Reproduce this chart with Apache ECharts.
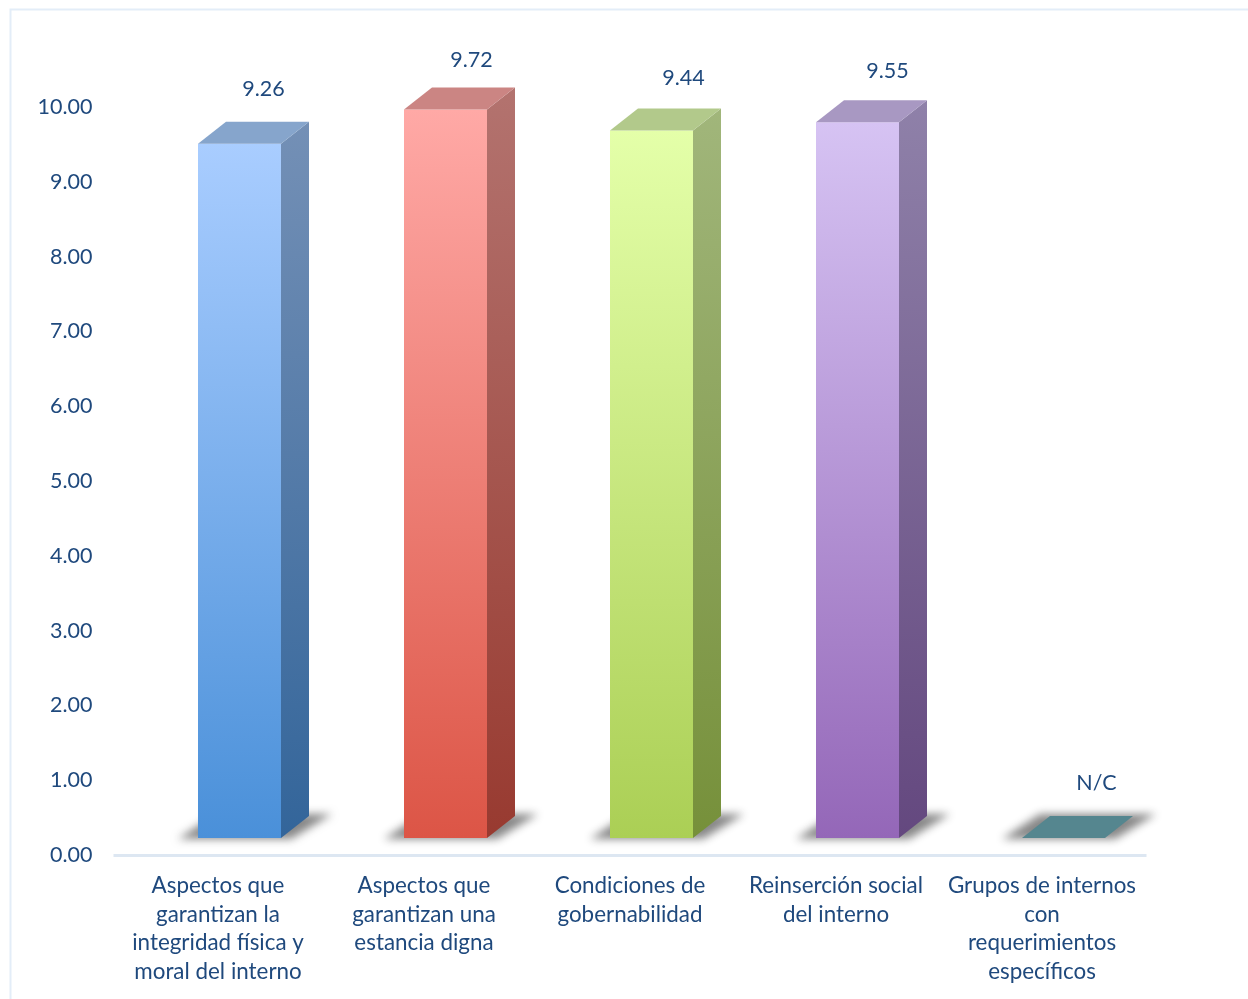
<!DOCTYPE html>
<html>
<head>
<meta charset="utf-8">
<style>html,body{margin:0;padding:0;background:#fff;overflow:hidden}#c{width:1248px;height:999px}</style>
<script src="https://cdn.jsdelivr.net/npm/echarts@6/dist/echarts.min.js"></script>
</head>
<body>
<div id="c"></div>
<script>
const categories = [
  "Aspectos que\ngarantizan la\nintegridad física y\nmoral del interno",
  "Aspectos que\ngarantizan una\nestancia digna",
  "Condiciones de\ngobernabilidad",
  "Reinserción social\ndel interno",
  "Grupos de internos\ncon\nrequerimientos\nespecíficos"
];
const values = [9.26, 9.72, 9.44, 9.55, 0];
const valueLabels = ["9.26", "9.72", "9.44", "9.55", "N/C"];
const yTicks = {min: 0, max: 10, interval: 1};

const faces = [
  {front:["#a9cdff","#4a90d9"], side:["#7490b6","#33659a"], top:"#86a5cc"},
  {front:["#ffa9a6","#dc5546"], side:["#b3736f","#983a30"], top:"#cb8583"},
  {front:["#e4ffa9","#abcf55"], side:["#a1b67b","#76903a"], top:"#b2c98b"},
  {front:["#d6c3f3","#9467b8"], side:["#8f81a9","#64487f"], top:"#a898c2"},
  {front:["#55868f","#55868f"], side:["#55868f","#55868f"], top:"#55868f"}
];
const labelDx = [24, 26, 32, 30, 33];
const labelDy = [33, 28, 31, 30, 33];
const TXT = "#1f497d", FONT = "Lato";
const grad = c => ({type:"linear",x:0,y:0,x2:0,y2:1,colorStops:[{offset:0,color:c[0]},{offset:1,color:c[1]}]});

function renderItem(params, api) {
  const i = api.value(0), v = api.value(1);
  const base = api.coord([i, 0]), tip = api.coord([i, v]);
  const w = 83, dx = 28, dy = 22, far = 3000;
  const x0 = base[0] - 20, x1 = x0 + w;
  const yb = base[1] - 17;
  const yt = v > 0 ? tip[1] - 18.5 : yb;
  const f = faces[i];
  const poly = (points, fill, extra) => ({type:"polygon", shape:{points}, style:Object.assign({fill}, extra || {})});
  // soft floor shadow: the shape sits off-canvas so that only its blurred shadow shows
  const kids = [
    poly([[x0-20-far,yb+1],[x0+18-far,yb-24],[x1+dx+23-far,yb-24],[x1+10-far,yb+1]], "#000",
      {shadowBlur:8, shadowOffsetX:far, shadowColor:"rgba(125,125,125,0.92)"})
  ];
  if (v > 0) {
    kids.push(poly([[x1,yb],[x1+dx,yb-dy],[x1+dx,yt-dy],[x1,yt]], grad(f.side)));
    kids.push(poly([[x0,yb],[x1,yb],[x1,yt],[x0,yt]], grad(f.front)));
  }
  kids.push(poly([[x0,yt],[x1,yt],[x1+dx,yt-dy],[x0+dx,yt-dy]], f.top));
  kids.push({type:"text", style:{
    text: valueLabels[i], x: x0 + w/2 + labelDx[i], y: yt - dy - labelDy[i] + 0.5,
    align:"center", verticalAlign:"middle", fill:TXT, font:"21.5px " + FONT}});
  return {type:"group", children:kids};
}

const chart = echarts.init(document.getElementById("c"), null, {renderer:"canvas"});
chart.setOption({
  animation:false,
  backgroundColor:"#ffffff",
  graphic:[{type:"rect", silent:true, z:-1, shape:{x:10.5,y:9.5,width:1400,height:1200},
            style:{fill:"none",stroke:"#e3edf8",lineWidth:2}}],
  grid:{left:115, width:1030, top:107, height:748},
  xAxis:{type:"category", data:categories,
    axisLine:{lineStyle:{color:"#dde7f2",width:3,cap:"square"}}, axisTick:{show:false},
    axisLabel:{interval:0, color:TXT, fontFamily:FONT, fontSize:22.4, lineHeight:28.5, margin:17}},
  yAxis:{type:"value", min:yTicks.min, max:yTicks.max, interval:yTicks.interval,
    axisLine:{show:false}, axisTick:{show:false}, splitLine:{show:false},
    axisLabel:{color:TXT, fontFamily:FONT, fontSize:21.5, margin:22.5, padding:[4,0,0,0], formatter:v=>v.toFixed(2)}},
  series:[{type:"custom", clip:false, renderItem,
    encode:{x:0,y:1}, data:values.map((v,i)=>[i,v])}]
});
</script>
</body>
</html>
